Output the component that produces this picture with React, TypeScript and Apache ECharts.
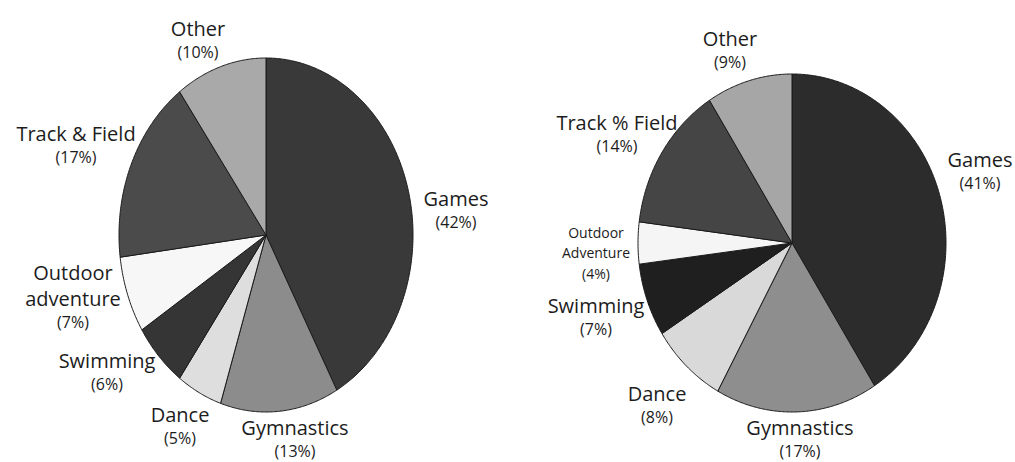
import React, { useEffect, useRef } from "react";
import * as echarts from "echarts";

// ---- data ----
const categoriesLeft = ["Games", "Gymnastics", "Dance", "Swimming", "Outdoor\nadventure", "Track & Field", "Other"];
const valuesLeft = [42, 13, 5, 6, 7, 17, 10];

const categoriesRight = ["Games", "Gymnastics", "Dance", "Swimming", "Outdoor\nAdventure", "Track % Field", "Other"];
const valuesRight = [41, 17, 8, 7, 4, 14, 9];

// ---- layout / styles (not data) ----
const leftGeom = { cx: 266, cy: 235, rx: 147, ry: 177 };
const rightGeom = { cx: 792, cy: 243, rx: 154, ry: 169 };

const leftLabelPos: [number, number][] = [
  [456, 209], [295, 438], [180, 425], [107, 371], [73, 296], [76, 144], [198, 39],
];
const rightLabelPos: [number, number][] = [
  [980, 170], [800, 438], [657, 404], [596, 316], [596, 253], [617, 133], [730, 49],
];
const leftSmall = [false, false, false, false, false, false, false];
const rightSmall = [false, false, false, false, true, false, false];

const leftColors = ["#393939", "#8c8c8c", "#dedede", "#353535", "#f7f7f7", "#4b4b4b", "#a9a9a9"];
const rightColors = ["#2c2c2c", "#8e8e8e", "#d9d9d9", "#1f1f1f", "#f5f5f5", "#454545", "#a6a6a6"];

const FONT = "'Open Sans', 'DejaVu Sans', sans-serif";
const TEXT = "#1c1c1c";

function buildSeries(
  names: string[],
  values: number[],
  geom: { cx: number; cy: number; rx: number; ry: number },
  labelPos: [number, number][],
  small: boolean[],
  colors: string[]
) {
  const total = values.reduce((a, b) => a + b, 0);
  return {
    type: "custom",
    coordinateSystem: "none",
    silent: true,
    data: values.map((v, i) => ({ name: names[i], value: v })),
    renderItem: (params: any, api: any) => {
      const i = params.dataIndex;
      const v = api.value(0);
      let before = 0;
      for (let k = 0; k < i; k++) before += values[k];
      const a0 = (before / total) * Math.PI * 2;
      const a1 = ((before + v) / total) * Math.PI * 2;
      const { cx, cy, rx, ry } = geom;
      const pts: number[][] = [[cx, cy]];
      const steps = Math.max(2, Math.ceil((a1 - a0) / (Math.PI / 360)));
      for (let s = 0; s <= steps; s++) {
        const t = a0 + ((a1 - a0) * s) / steps;
        pts.push([cx + rx * Math.sin(t), cy - ry * Math.cos(t)]);
      }
      const sm = small[i];
      const nameLines = names[i]
        .split("\n")
        .map((l) => `{${sm ? "ns" : "n"}|${l}}`)
        .join("\n");
      const text = `${nameLines}\n{${sm ? "ps" : "p"}|(${v}%)}`;
      return {
        type: "group",
        children: [
          {
            type: "polygon",
            shape: { points: pts },
            style: { fill: colors[i], stroke: "#1a1a1a", lineWidth: 1, lineJoin: "round" },
          },
          {
            type: "text",
            x: labelPos[i][0],
            y: labelPos[i][1],
            style: {
              text,
              align: "center",
              verticalAlign: "middle",
              fill: TEXT,
              fontFamily: FONT,
              rich: {
                n: { fontSize: 20, lineHeight: 26, fontFamily: FONT, fill: TEXT, align: "center" },
                p: { fontSize: 16, lineHeight: 22, fontFamily: FONT, fill: TEXT, align: "center" },
                ns: { fontSize: 14, lineHeight: 20, fontFamily: FONT, fill: TEXT, align: "center" },
                ps: { fontSize: 14, lineHeight: 21, fontFamily: FONT, fill: TEXT, align: "center" },
              },
            },
          },
        ],
      };
    },
  };
}

export default function App() {
  const ref = useRef<HTMLDivElement>(null);
  useEffect(() => {
    document.body.style.margin = "0";
    if (!ref.current) return;
    const chart = echarts.init(ref.current, undefined, { renderer: "svg" });
    chart.setOption({
      animation: false,
      backgroundColor: "#ffffff",
      series: [
        buildSeries(categoriesLeft, valuesLeft, leftGeom, leftLabelPos, leftSmall, leftColors),
        buildSeries(categoriesRight, valuesRight, rightGeom, rightLabelPos, rightSmall, rightColors),
      ],
    });
    return () => chart.dispose();
  }, []);
  return <div ref={ref} style={{ width: 1015, height: 462 }} />;
}
